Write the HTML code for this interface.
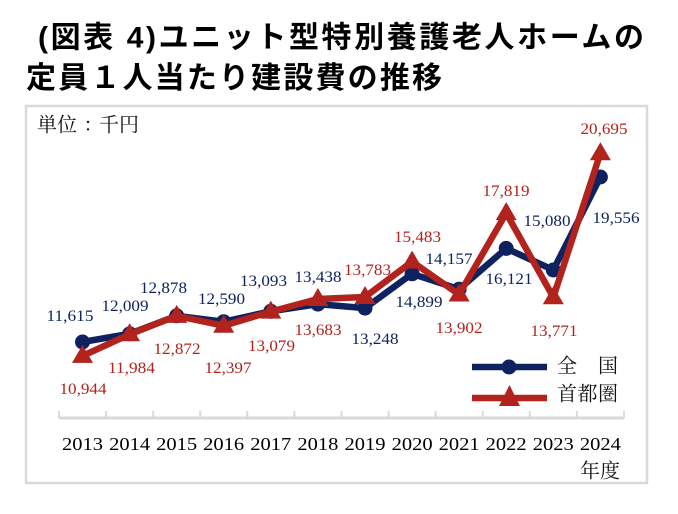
<!DOCTYPE html>
<html>
<head>
<meta charset="utf-8">
<style>
html,body{margin:0;padding:0;background:#fff;}
svg{display:block;}
.t{font-family:"Liberation Sans","Noto Sans CJK JP",sans-serif;font-weight:700;font-size:30px;fill:#000;}
.n{font-family:"Liberation Serif",serif;font-size:16px;}
.nv{fill:#0e2260;}
.rd{fill:#b2231d;}
.yr{font-family:"Liberation Serif",serif;font-size:18px;fill:#000;}
.jp2{font-family:"Noto Serif CJK SC",serif;font-size:20px;fill:#111;}
.jp3{font-family:"Liberation Serif","Noto Serif CJK SC",serif;font-size:20px;fill:#111;}
</style>
</head>
<body>
<svg width="678" height="514" viewBox="0 0 678 514" xmlns="http://www.w3.org/2000/svg">
<rect width="678" height="514" fill="#fff"/>
<!-- Title -->
<text class="t" x="38" y="47.5" textLength="606" lengthAdjust="spacing">(図表 4)ユニット型特別養護老人ホームの</text>
<text class="t" x="26" y="88" textLength="416" lengthAdjust="spacing">定員１人当たり建設費の推移</text>

<!-- Chart box -->
<rect x="26" y="106" width="621" height="377" fill="#fff" stroke="#d9d9d9" stroke-width="2.5"/>

<text class="jp2" x="37" y="131.5">単位</text>
<text class="jp3" x="88" y="130.5" text-anchor="middle">:</text>
<text class="jp2" x="99" y="131.5">千円</text>

<!-- Axis -->
<line x1="59" y1="418" x2="624" y2="418" stroke="#d9d9d9" stroke-width="3"/>
<g stroke="#d9d9d9" stroke-width="2">
<line x1="59" y1="411" x2="59" y2="418"/>
<line x1="106.1" y1="411" x2="106.1" y2="418"/>
<line x1="153.2" y1="411" x2="153.2" y2="418"/>
<line x1="200.2" y1="411" x2="200.2" y2="418"/>
<line x1="247.3" y1="411" x2="247.3" y2="418"/>
<line x1="294.4" y1="411" x2="294.4" y2="418"/>
<line x1="341.5" y1="411" x2="341.5" y2="418"/>
<line x1="388.6" y1="411" x2="388.6" y2="418"/>
<line x1="435.6" y1="411" x2="435.6" y2="418"/>
<line x1="482.7" y1="411" x2="482.7" y2="418"/>
<line x1="529.8" y1="411" x2="529.8" y2="418"/>
<line x1="576.9" y1="411" x2="576.9" y2="418"/>
<line x1="624" y1="411" x2="624" y2="418"/>
</g>

<!-- Year labels -->
<g class="yr" text-anchor="middle">
<text x="82.5" y="450" textLength="41" lengthAdjust="spacingAndGlyphs">2013</text>
<text x="129.6" y="450" textLength="41" lengthAdjust="spacingAndGlyphs">2014</text>
<text x="176.7" y="450" textLength="41" lengthAdjust="spacingAndGlyphs">2015</text>
<text x="223.7" y="450" textLength="41" lengthAdjust="spacingAndGlyphs">2016</text>
<text x="270.8" y="450" textLength="41" lengthAdjust="spacingAndGlyphs">2017</text>
<text x="317.9" y="450" textLength="41" lengthAdjust="spacingAndGlyphs">2018</text>
<text x="365.0" y="450" textLength="41" lengthAdjust="spacingAndGlyphs">2019</text>
<text x="412.1" y="450" textLength="41" lengthAdjust="spacingAndGlyphs">2020</text>
<text x="459.1" y="450" textLength="41" lengthAdjust="spacingAndGlyphs">2021</text>
<text x="506.2" y="450" textLength="41" lengthAdjust="spacingAndGlyphs">2022</text>
<text x="553.3" y="450" textLength="41" lengthAdjust="spacingAndGlyphs">2023</text>
<text x="600.4" y="450" textLength="41" lengthAdjust="spacingAndGlyphs">2024</text>
</g>
<text class="jp2" x="580" y="477.5" textLength="40" lengthAdjust="spacingAndGlyphs">年度</text>

<!-- Navy series -->
<polyline fill="none" stroke="#0e2260" stroke-width="6.5" stroke-linejoin="round"
 points="82.5,342 129.6,333.8 176.7,315.8 223.7,321.7 270.8,311.3 317.9,304.1 365.0,308.1 412.1,273.8 459.1,289.2 506.2,248.4 553.3,270.0 600.4,177.0"/>
<g fill="#0e2260">
<circle cx="82.5" cy="342" r="7.5"/>
<circle cx="129.6" cy="333.8" r="7.5"/>
<circle cx="176.7" cy="315.8" r="7.5"/>
<circle cx="223.7" cy="321.7" r="7.5"/>
<circle cx="270.8" cy="311.3" r="7.5"/>
<circle cx="317.9" cy="304.1" r="7.5"/>
<circle cx="365.0" cy="308.1" r="7.5"/>
<circle cx="412.1" cy="273.8" r="7.5"/>
<circle cx="459.1" cy="289.2" r="7.5"/>
<circle cx="506.2" cy="248.4" r="7.5"/>
<circle cx="553.3" cy="270.0" r="7.5"/>
<circle cx="600.4" cy="177.0" r="7.5"/>
</g>

<!-- Red series -->
<polyline fill="none" stroke="#b2231d" stroke-width="6.5" stroke-linejoin="round"
 points="82.5,355.9 129.6,334.3 176.7,315.9 223.7,325.7 270.8,311.6 317.9,299.0 365.0,297.0 412.1,261.6 459.1,294.5 506.2,213.1 553.3,297.2 600.4,153.3"/>
<g fill="#b2231d">
<polygon points="82.5,344.9 72,362.9 93,362.9"/>
<polygon points="129.6,323.3 119.1,341.3 140.1,341.3"/>
<polygon points="176.7,304.9 166.2,322.9 187.2,322.9"/>
<polygon points="223.7,314.7 213.2,332.7 234.2,332.7"/>
<polygon points="270.8,300.6 260.3,318.6 281.3,318.6"/>
<polygon points="317.9,288.0 307.4,306.0 328.4,306.0"/>
<polygon points="365.0,286.0 354.5,304.0 375.5,304.0"/>
<polygon points="412.1,250.6 401.6,268.6 422.6,268.6"/>
<polygon points="459.1,283.5 448.6,301.5 469.6,301.5"/>
<polygon points="506.2,202.1 495.7,220.1 516.7,220.1"/>
<polygon points="553.3,286.2 542.8,304.2 563.8,304.2"/>
<polygon points="600.4,142.3 589.9,160.3 610.9,160.3"/>
</g>

<!-- Navy labels -->
<g class="n nv" text-anchor="middle">
<text x="70" y="321" textLength="47" lengthAdjust="spacingAndGlyphs">11,615</text>
<text x="125" y="311" textLength="47" lengthAdjust="spacingAndGlyphs">12,009</text>
<text x="163.5" y="293" textLength="47" lengthAdjust="spacingAndGlyphs">12,878</text>
<text x="221.5" y="304" textLength="47" lengthAdjust="spacingAndGlyphs">12,590</text>
<text x="263.5" y="286" textLength="47" lengthAdjust="spacingAndGlyphs">13,093</text>
<text x="318" y="282" textLength="47" lengthAdjust="spacingAndGlyphs">13,438</text>
<text x="375" y="344" textLength="47" lengthAdjust="spacingAndGlyphs">13,248</text>
<text x="419" y="307" textLength="47" lengthAdjust="spacingAndGlyphs">14,899</text>
<text x="449" y="264" textLength="47" lengthAdjust="spacingAndGlyphs">14,157</text>
<text x="509" y="284" textLength="47" lengthAdjust="spacingAndGlyphs">16,121</text>
<text x="547" y="226" textLength="47" lengthAdjust="spacingAndGlyphs">15,080</text>
<text x="616" y="223" textLength="47" lengthAdjust="spacingAndGlyphs">19,556</text>
</g>

<!-- Red labels -->
<g class="n rd" text-anchor="middle">
<text x="83" y="394" textLength="47" lengthAdjust="spacingAndGlyphs">10,944</text>
<text x="131.5" y="373" textLength="47" lengthAdjust="spacingAndGlyphs">11,984</text>
<text x="177" y="354" textLength="47" lengthAdjust="spacingAndGlyphs">12,872</text>
<text x="228" y="373" textLength="47" lengthAdjust="spacingAndGlyphs">12,397</text>
<text x="271.5" y="351" textLength="47" lengthAdjust="spacingAndGlyphs">13,079</text>
<text x="318" y="335" textLength="47" lengthAdjust="spacingAndGlyphs">13,683</text>
<text x="367.5" y="275" textLength="47" lengthAdjust="spacingAndGlyphs">13,783</text>
<text x="417.5" y="242" textLength="47" lengthAdjust="spacingAndGlyphs">15,483</text>
<text x="459" y="333" textLength="47" lengthAdjust="spacingAndGlyphs">13,902</text>
<text x="506" y="196" textLength="47" lengthAdjust="spacingAndGlyphs">17,819</text>
<text x="554" y="336" textLength="47" lengthAdjust="spacingAndGlyphs">13,771</text>
<text x="604" y="134" textLength="47" lengthAdjust="spacingAndGlyphs">20,695</text>
</g>

<!-- Legend -->
<line x1="472" y1="367" x2="547" y2="367" stroke="#0e2260" stroke-width="6.5"/>
<circle cx="509" cy="367" r="7.5" fill="#0e2260"/>
<line x1="472" y1="398" x2="547" y2="398" stroke="#b2231d" stroke-width="6.5"/>
<polygon points="509.5,385 499,406 520,406" fill="#b2231d"/>
<text class="jp2" x="557" y="372.5" textLength="61" lengthAdjust="spacing">全　国</text>
<text class="jp2" x="557" y="400.5" textLength="61" lengthAdjust="spacing">首都圏</text>
</svg>
</body>
</html>
